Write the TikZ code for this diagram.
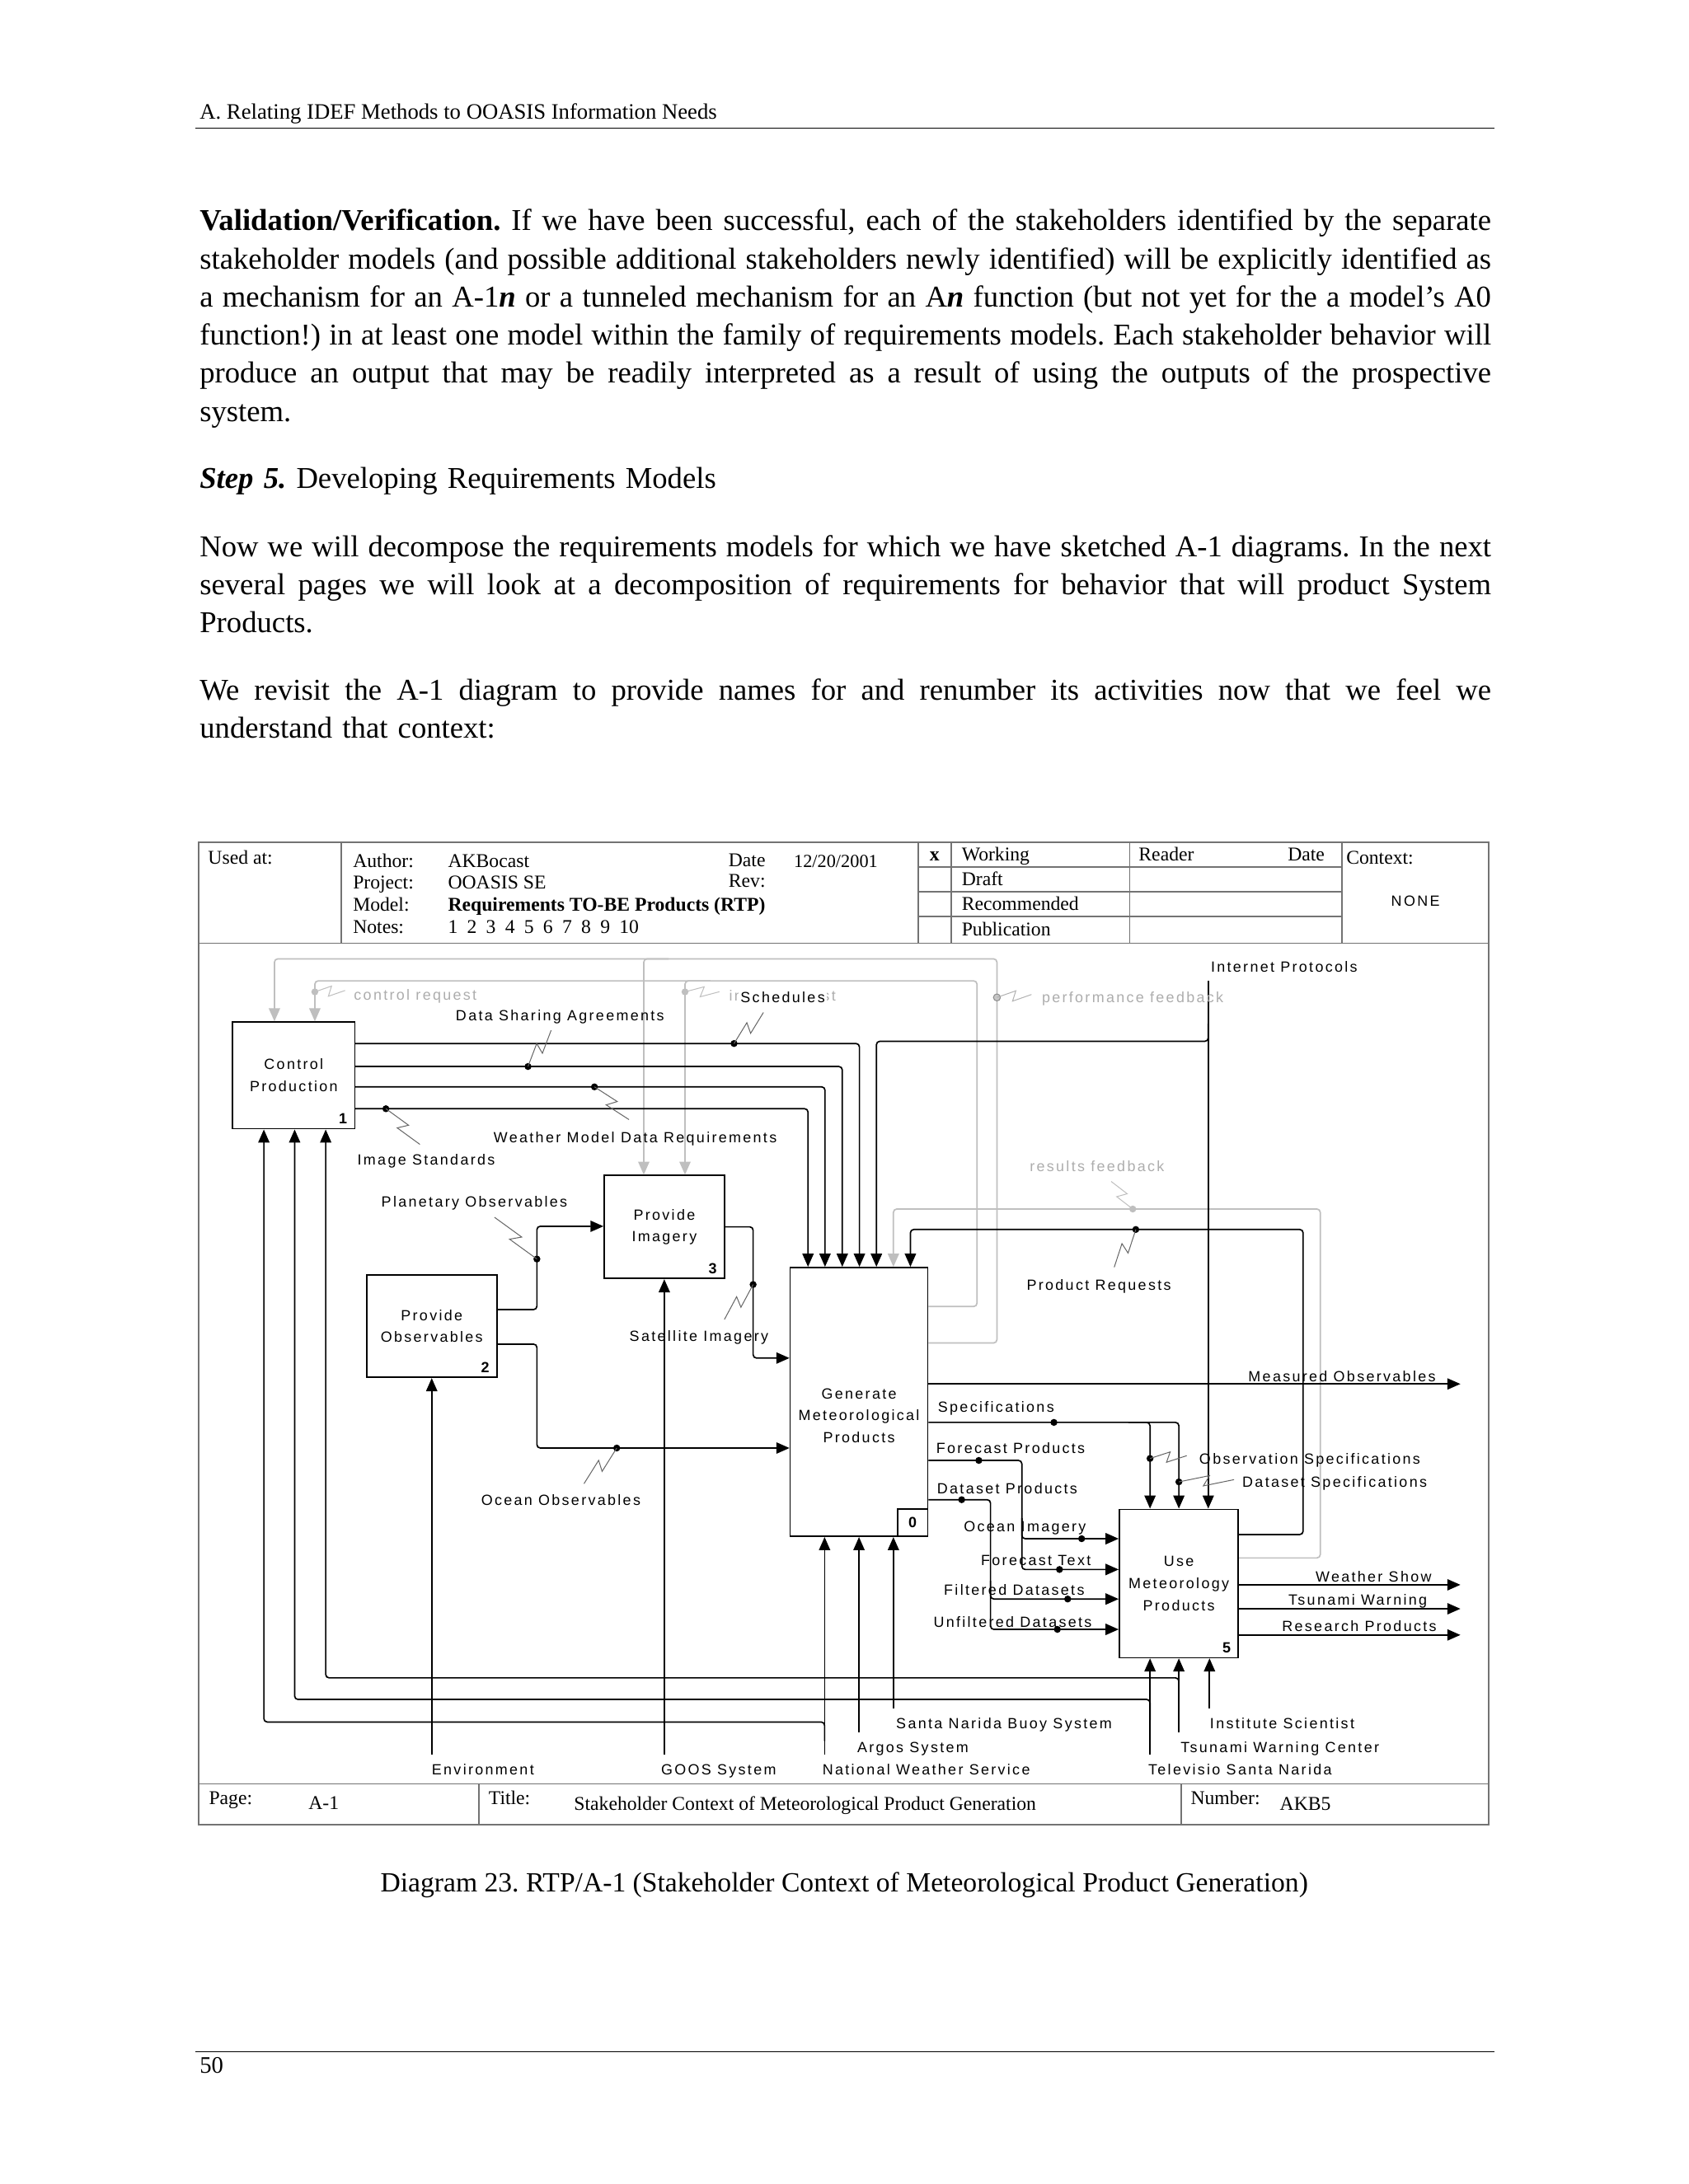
\documentclass[tikz,border=0pt]{standalone}
\usepackage{fontspec}
\setmainfont{Liberation Serif}
\newfontfamily\idef[LetterSpace=13]{Liberation Sans}
\usetikzlibrary{arrows.meta,calc}

\newcommand\squig[3][black!60]{%
  \draw[#1,line width=0.3pt] (#2) -- ($(#2)!0.56!(#3)!1.8pt!90:(#3)$)
    -- ($(#2)!0.44!(#3)!1.8pt!-90:(#3)$) -- (#3);}
\newcommand\jl[1]{\leavevmode\hbox to 463.5pt{\spaceskip 2.71pt plus 4pt minus 1pt\relax #1}}

\begin{document}
\begin{tikzpicture}[x=0.5pt,y=-0.5pt,>={Triangle[length=4.7pt,width=4pt]},
  act/.style={draw,line width=0.5pt,fill=white,inner sep=0pt,align=center,
    font=\idef\fontsize{5.3}{7.9}\selectfont},
  num/.style={anchor=south east,inner xsep=2.8pt,inner ysep=1.8pt,
    font=\idef\bfseries\fontsize{5.3}{6}\selectfont},
  lab/.style={anchor=west,inner sep=0pt,text height=3.8pt,text depth=0pt,
    font=\idef\fontsize{5.3}{6}\selectfont},
  glab/.style={lab,text=black!32},
  frm/.style={anchor=west,inner sep=0pt,text height=4.6pt,text depth=0pt,
    font=\fontsize{7}{8}\selectfont},
  frame/.style={draw=black!55,line width=0.5pt},
  a/.style={line width=0.5pt,rounded corners=1.2pt},
  fb/.style={a,draw=black!25},
  body/.style={anchor=base west,inner sep=0pt,align=left,text width=463.5pt,
    font=\fontsize{10.85}{13.7}\selectfont\frenchspacing}]
\useasboundingbox (0,0) rectangle (1212,1568);
\fill[white] (0,0) rectangle (1212,1568);

% page text
\node[anchor=base west,inner sep=0pt,font=\fontsize{7.9}{9}\selectfont] (hdr) at (143,85.5)
  {A. Relating IDEF Methods to OOASIS Information Needs};
\draw[line width=0.5pt] (140,92) -- (1073,92);
\node[body] (p1) at (143,165.5) {%
\jl{\textbf{Validation/Verification.} If we have been successful, each of the stakeholders identified by the separate}\\
\jl{stakeholder models (and possible additional stakeholders newly identified) will be explicitly identified as}\\
\jl{a mechanism for an A-1\textbf{\textit{n}} or a tunneled mechanism for an A\textbf{\textit{n}} function (but not yet for the a model’s A0}\\
\jl{function!) in at least one model within the family of requirements models. Each stakeholder behavior will}\\
\jl{produce an output that may be readily interpreted as a result of using the outputs of the prospective}\\
system.};
\node[body] (p2) at (143,350.5) {\textbf{\textit{Step 5.}} Developing Requirements Models};
\node[body] (p3) at (143,399.5) {%
\jl{Now we will decompose the requirements models for which we have sketched A-1 diagrams. In the next}\\
\jl{several pages we will look at a decomposition of requirements for behavior that will product System}\\
Products.};
\node[body] (p4) at (143,502.5) {%
\jl{We revisit the A-1 diagram to provide names for and renumber its activities now that we feel we}\\
understand that context:};
\node[anchor=base,inner sep=0pt,font=\fontsize{9.95}{11}\selectfont\frenchspacing] (cap) at (606,1358)
  {Diagram 23. RTP/A-1 (Stakeholder Context of Meteorological Product Generation)};
\draw[line width=0.5pt] (140,1473) -- (1073,1473);
\node[anchor=base west,inner sep=0pt,font=\fontsize{8.5}{9}\selectfont] (pg) at (143,1488.5) {50};

% form
\draw[frame] (142.7,604.6) rectangle (1068.4,1310.2);
\draw[frame] (142.7,677.2) -- (1068.4,677.2) (142.7,1280.7) -- (1068.4,1280.7);
\foreach \x in {244.8,659,682.8,811,963.2} \draw[frame] (\x,604.6) -- (\x,677.2);
\foreach \y in {622.4,640.1,657.8} \draw[frame] (659,\y) -- (963.2,\y);
\draw[frame] (343.7,1280.7) -- (343.7,1310.2) (847.8,1280.7) -- (847.8,1310.2);
\node[frm] (fUsed) at (149,615.5) {Used at:};
\node[frm] (fAut) at (253,618.4) {Author:};
\node[frm] (fPrj) at (253,633.8) {Project:};
\node[frm] (fMod) at (253,649.6) {Model:};
\node[frm] (fNot) at (253,665.4) {Notes:};
\node[frm] (vAut) at (321.2,618.4) {AKBocast};
\node[frm] (vPrj) at (321.2,633.8) {OOASIS SE};
\node[frm,font=\bfseries\fontsize{7}{8}\selectfont] (vMod) at (321.2,649.6) {Requirements TO-BE Products (RTP)};
\node[frm] (vNot) at (321.2,665.4) {\makebox[68.5pt][s]{1 2 3 4 5 6 7 8 9 10}};
\node[frm] (fDate) at (522.6,617.5) {Date};
\node[frm] (fRev) at (522.6,632.5) {Rev:};
\node[frm,font=\fontsize{6.6}{8}\selectfont] (vDate) at (569.5,618.4) {12/20/2001};
\node[frm,anchor=center,font=\bfseries\fontsize{7}{8}\selectfont] (fX) at (670.9,613.5) {x};
\node[frm] (fWrk) at (690,613.5) {Working};
\node[frm] (fDrf) at (690,631.3) {Draft};
\node[frm] (fRec) at (690,649) {Recommended};
\node[frm] (fPub) at (690,667.5) {Publication};
\node[frm] (fRdr) at (817,613.5) {Reader};
\node[frm] (fRdt) at (924,613.5) {Date};
\node[frm] (fCtx) at (966,615.5) {Context:};
\node[lab,anchor=center] (vCtx) at (1016,647) {NONE};
\node[frm] (fPage) at (149.6,1291.1) {Page:};
\node[frm] (vPage) at (221.1,1294.5) {A-1};
\node[frm] (fTitle) at (350.4,1291.1) {Title:};
\node[frm] (vTitle) at (411.7,1295) {Stakeholder Context of Meteorological Product Generation};
\node[frm] (fNum) at (854.3,1291.1) {Number:};
\node[frm] (vNum) at (918.3,1295) {AKB5};

% activities
\node[act,minimum width=43.8pt,minimum height=38.3pt] (ctrl) at (210.85,772.1) {Control\\Production};
\node[num] (n1) at (ctrl.south east) {1};
\node[act,minimum width=43.15pt,minimum height=37pt] (img) at (476.85,880.9) {Provide\\Imagery};
\node[num] (n3) at (img.south east) {3};
\node[act,minimum width=46.8pt,minimum height=36.8pt] (obs) at (309.9,952.1) {Provide\\Observables};
\node[num] (n2) at (obs.south east) {2};
\node[act,minimum width=49.4pt,minimum height=96.5pt] (gen) at (616.6,1006.5) {};
\node[act,draw=none,fill=none] (gtxt) at (616.6,1016.3) {Generate\\Meteorological\\Products};
\node[act,anchor=south east,minimum width=10.9pt,minimum height=9.8pt,font=\idef\bfseries\fontsize{5.3}{6}\selectfont] (n0) at (gen.south east) {0};
\node[act,minimum width=42.7pt,minimum height=53.25pt] (use) at (846.2,1136.85) {Use\\Meteorology\\Products};
\node[num] (n5) at (use.south east) {5};

% feedback
\draw[fb,->] (gen.east |- 0,964.2) -- (715.6,964.2) -- (715.6,688.4) -- (197,688.4) -- (ctrl.north -| 197,0);
\draw[fb,->] (480,688.4) -- (462.1,688.4) -- (img.north -| 462.1,0);
\draw[fb,->] (gen.east |- 0,938) -- (701.3,938) -- (701.3,704.2) -- (226,704.2) -- (ctrl.north -| 226,0);
\draw[fb,->] (510,704.2) -- (491.7,704.2) -- (img.north -| 491.7,0);
\draw[fb,->] (use.east |- 0,1118.5) -- (947.7,1118.5) -- (947.7,868) -- (641.3,868) -- (gen.north -| 641.3,0);

% controls
\draw[a,->] (ctrl.east |- 0,749.2) -- (616.9,749.2) -- (gen.north -| 616.9,0);
\draw[a,->] (ctrl.east |- 0,765.7) -- (604.6,765.7) -- (gen.north -| 604.6,0);
\draw[a,->] (ctrl.east |- 0,780.3) -- (592.2,780.3) -- (gen.north -| 592.2,0);
\draw[a,->] (ctrl.east |- 0,796) -- (580,796) -- (gen.north -| 580,0);
\coordinate (ip) at (867.3,704.2);
\draw[a,->] (ip) -- (use.north -| ip);
\draw[a,->] (867.3,735) -- (867.3,747.6) -- (629.1,747.6) -- (gen.north -| 629.1,0);
\draw[a,->] (use.east |- 0,1101.7) -- (935.4,1101.7) -- (935.4,882.7) -- (653.5,882.7) -- (gen.north -| 653.5,0);

% inputs
\draw[a,->] (obs.east |- 0,940.2) -- (385.4,940.2) -- (385.4,880.4) -- (img.west |- 0,880.4);
\draw[a,->] (obs.east |- 0,965) -- (385.4,965) -- (385.4,1039.6) -- (gen.west |- 0,1039.6);
\draw[a,->] (img.east |- 0,880.8) -- (540.6,880.8) -- (540.6,975) -- (gen.west |- 0,975);

% outputs
\coordinate (mo) at (1048.3,993.6);
\draw[a,->] (gen.east |- mo) -- (mo);
\draw[a,->] (gen.east |- 0,1021.2) -- (846.2,1021.2) -- (use.north -| 846.2,0);
\draw[a,->] (810,1021.2) -- (825.5,1021.2) -- (use.north -| 825.5,0);
\draw[a,->] (gen.east |- 0,1048.5) -- (733.5,1048.5) -- (733.5,1126.8) -- (use.west |- 0,1126.8);
\draw[a,->] (733.5,1090) -- (733.5,1104.7) -- (use.west |- 0,1104.7);
\draw[a,->] (gen.east |- 0,1076.7) -- (711,1076.7) -- (711,1169.8) -- (use.west |- 0,1169.8);
\draw[a,->] (711,1135) -- (711,1148) -- (use.west |- 0,1148);
\foreach \n/\y in {ws/1137.8,tw/1155,rp/1173.8} {
  \coordinate (\n) at (1048.3,\y);
  \draw[a,->] (use.east |- \n) -- (\n);
}

% mechanisms
\coordinate (env) at (309.9,1259.6);
\coordinate (goos) at (476.85,1259.6);
\coordinate (nws) at (591.9,1259.6);
\coordinate (argos) at (616.6,1243.8);
\coordinate (buoy) at (641.3,1226.6);
\coordinate (tv) at (825.5,1259.6);
\coordinate (twc) at (846.2,1243.8);
\coordinate (isci) at (868.2,1226.6);
\draw[a,->] (env) -- (obs.south -| env);
\draw[a,->] (goos) -- (img.south -| goos);
\foreach \m in {nws,argos,buoy} \draw[a,->] (\m) -- (gen.south -| \m);
\foreach \m in {tv,twc,isci} \draw[a,->] (\m) -- (use.south -| \m);
\draw[a,->] (591.9,1250) -- (591.9,1236.3) -- (189.4,1236.3) -- (ctrl.south -| 189.4,0);
\draw[a,->] (825.5,1235) -- (825.5,1220.1) -- (211.5,1220.1) -- (ctrl.south -| 211.5,0);
\draw[a,->] (846.2,1218) -- (846.2,1204.6) -- (233.8,1204.6) -- (ctrl.south -| 233.8,0);

% dots and squiggles
\foreach \p in {{526.9,749.2},{379,765.7},{426.7,780.3},{277,796},{385.4,903.9},{815.3,882.7},
  {540.6,922.2},{442.7,1039.6},{756.5,1021.2},{702.6,1048.5},{690.3,1076.7},{825.5,1047.1},
  {846.2,1063.9},{776.4,1104.7},{760.5,1126.8},{766.4,1148},{759,1169.8}}
  \fill (\p) circle (1.25pt);
\foreach \p in {{226,712.1},{491.7,712.1},{813.1,868}} \fill[black!25] (\p) circle (1.25pt);
\filldraw[fill=black!22,draw=black!45,line width=0.3pt] (715.6,716.1) circle (1.25pt);
\squig[black!25]{226,712.1}{247.7,711.1}
\squig[black!25]{491.7,712.1}{516.4,712}
\squig[black!30]{715.6,716.1}{740.4,714}
\squig[black!25]{813.1,868}{797.6,848.2}
\squig{526.9,749.2}{548,726.9}
\squig{379,765.7}{395.6,739.7}
\squig{426.7,780.3}{451.5,803.8}
\squig{277,796}{301.4,821.6}
\squig{385.4,903.9}{354.9,873.9}
\squig{815.3,882.7}{799.8,909.8}
\squig{540.6,922.2}{520,947.3}
\squig{442.7,1039.6}{419.2,1065.2}
\squig{825.5,1047.1}{851.8,1045.1}
\squig{846.2,1063.9}{885.8,1062.3}

% labels
\node[glab] (lCr) at (253.7,714.5) {control request};
\node[glab] (lIr) at (523,715) {input request};
\node[lab,fill=white,inner sep=0.6pt] (lSch) at (530,716) {Schedules};
\node[glab] (lPf) at (747.5,716) {performance feedback};
\node[lab] (lIp) at (868.8,694) {Internet Protocols};
\node[lab] (lDsa) at (326.8,728.9) {Data Sharing Agreements};
\node[lab] (lWm) at (354,816.3) {Weather Model Data Requirements};
\node[lab] (lIs) at (256.2,832.8) {Image Standards};
\node[glab] (lRf) at (738.8,837.4) {results feedback};
\node[lab] (lPo) at (273.4,863) {Planetary Observables};
\node[lab] (lPr) at (736.6,922.2) {Product Requests};
\node[lab] (lSi) at (451.5,959.1) {Satellite Imagery};
\node[lab] (lMo) at (895.7,988.3) {Measured Observables};
\node[lab] (lSp) at (672.9,1010) {Specifications};
\node[lab] (lFp) at (671.7,1039.6) {Forecast Products};
\node[lab] (lOs) at (860.5,1047.1) {Observation Specifications};
\node[lab] (lDs) at (891.4,1064.2) {Dataset Specifications};
\node[lab] (lDp) at (672.3,1068.8) {Dataset Products};
\node[lab] (lOo) at (345,1077.1) {Ocean Observables};
\node[lab] (lOi) at (691.5,1095.8) {Ocean Imagery};
\node[lab] (lFt) at (703.8,1120.1) {Forecast Text};
\node[lab] (lFd) at (677.2,1141.2) {Filtered Datasets};
\node[lab] (lUd) at (669.7,1164.2) {Unfiltered Datasets};
\node[lab] (lWs) at (944,1131.9) {Weather Show};
\node[lab] (lTw) at (924.5,1148.5) {Tsunami Warning};
\node[lab] (lRp) at (919.9,1167.4) {Research Products};
\node[lab] (lBuoy) at (642.9,1237.3) {Santa Narida Buoy System};
\node[lab] (lIsci) at (868.2,1237.3) {Institute Scientist};
\node[lab] (lArgos) at (615,1254.6) {Argos System};
\node[lab] (lTwc) at (847.1,1254.6) {Tsunami Warning Center};
\node[lab] (lEnv) at (309.6,1270.4) {Environment};
\node[lab] (lGoos) at (474.2,1270.4) {GOOS System};
\node[lab] (lNws) at (590,1270.4) {National Weather Service};
\node[lab] (lTv) at (823.9,1270.4) {Televisio Santa Narida};
\end{tikzpicture}
\end{document}
